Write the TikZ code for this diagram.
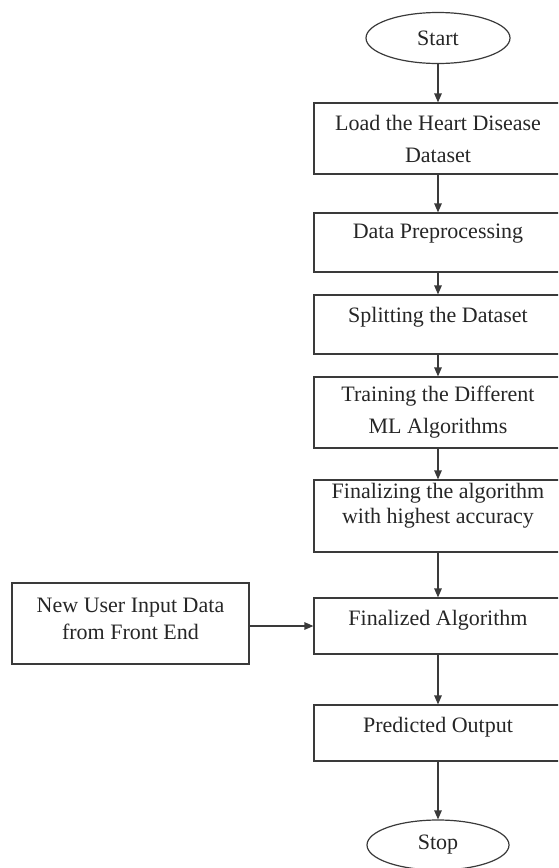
\documentclass[tikz,border=0pt]{standalone}
\usepackage{fontspec}
\setmainfont{Liberation Serif}
\usetikzlibrary{arrows.meta,shapes.geometric}
\definecolor{lineC}{HTML}{3A3A3A}
\definecolor{textC}{HTML}{262626}
\begin{document}
\begin{tikzpicture}[x=1pt,y=-1pt,
  box/.style={draw=lineC, line width=1.2pt, inner sep=0pt, align=center,
    text=textC, font=\fontsize{22}{32}\selectfont, minimum width=248pt},
  oval/.style={draw=lineC, line width=1.2pt, ellipse, inner sep=0pt,
    text=textC, font=\fontsize{22}{26}\selectfont},
  arr/.style={draw=lineC, line width=1.2pt, -{Triangle[length=9pt,width=7.5pt]}},
  txt/.style={text=textC, align=center, inner sep=0pt}
]
\useasboundingbox (0,0) rectangle (558,868);
\clip (0,0) rectangle (558,868);

\node[oval, minimum width=144pt, minimum height=51pt] (start) at (438,38) {Start};

\node[box, minimum height=71pt] (b1) at (438,138.5) {Load the Heart Disease\\Dataset};
\node[box, minimum height=59pt, label={[txt, font=\fontsize{22}{26}\selectfont, yshift=9pt]center:Data Preprocessing}] (b2) at (438,242.5) {};
\node[box, minimum height=59pt, label={[txt, font=\fontsize{22}{26}\selectfont, yshift=7.5pt]center:Splitting the Dataset}] (b3) at (438,324.5) {};
\node[box, minimum height=71pt] (b4) at (438,412.5) {Training the Different\\ML Algorithms};
\node[box, minimum height=72pt, label={[txt, font=\fontsize{22}{25}\selectfont, yshift=10pt]center:{Finalizing the algorithm\\with highest accuracy}}] (b5) at (438,516) {};
\node[box, minimum height=56pt, label={[txt, font=\fontsize{22}{26}\selectfont, yshift=6pt]center:Finalized Algorithm}] (b6) at (438,626) {};
\node[box, minimum height=56pt, label={[txt, font=\fontsize{22}{26}\selectfont, yshift=6pt]center:Predicted Output}] (b7) at (438,733) {};

\node[oval, minimum width=142pt, minimum height=50pt] (stop) at (438,845) {Stop};

\node[box, minimum width=237pt, minimum height=81pt, label={[txt, font=\fontsize{22}{27}\selectfont, yshift=5pt]center:{New User Input Data\\from Front End}}] (ub) at (130.5,623.5) {};

\draw[arr] (start) -- (b1);
\draw[arr] (b1) -- (b2);
\draw[arr] (b2) -- (b3);
\draw[arr] (b3) -- (b4);
\draw[arr] (b4) -- (b5);
\draw[arr] (b5) -- (b6);
\draw[arr] (b6) -- (b7);
\draw[arr] (b7) -- (stop);
\draw[arr] (ub.east |- b6.west) -- (b6.west);
\end{tikzpicture}
\end{document}
